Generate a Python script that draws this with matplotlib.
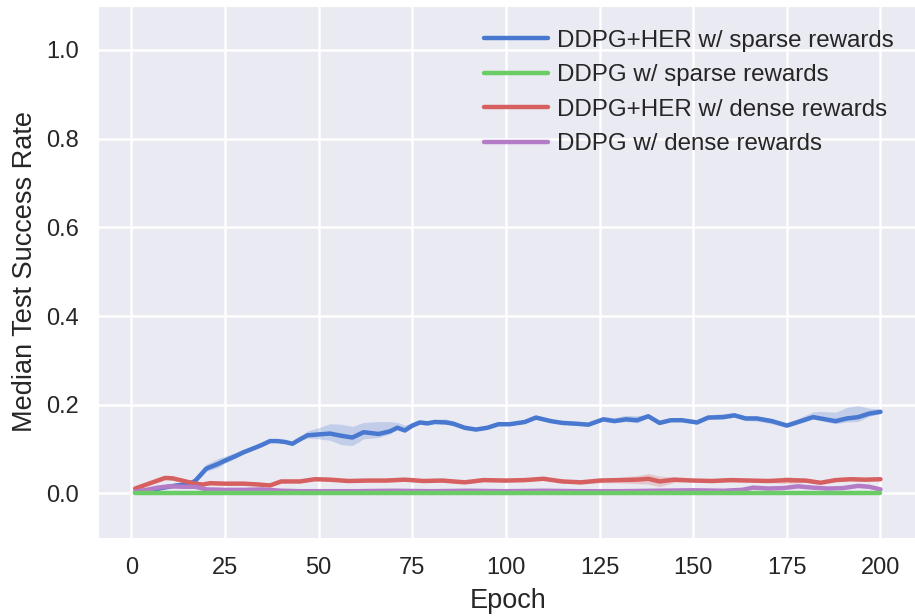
import numpy as np
import matplotlib
matplotlib.use("Agg")
import matplotlib.pyplot as plt
import seaborn as sns

# ==========================================
# Data (epoch, median success rate)
# ==========================================
blue_epochs = [1, 4, 8, 12, 15, 17, 20, 23, 25, 28, 30, 33, 35, 37, 39, 41, 43, 45, 47, 50,
               53, 56, 59, 62, 66, 69, 71, 73, 75, 77, 79, 81, 84, 86, 89, 92, 95, 98, 101, 105,
               108, 112, 115, 119, 122, 126, 129, 132, 135, 138, 141, 144, 147, 151, 154, 158, 161, 164, 167, 171,
               175, 178, 182, 184, 188, 191, 194, 197, 200]
blue_vals = [0.002, 0.005, 0.012, 0.018, 0.020, 0.028, 0.056, 0.066, 0.074, 0.085, 0.093, 0.103, 0.110, 0.118, 0.118, 0.116, 0.112, 0.122, 0.131, 0.133,
             0.135, 0.130, 0.126, 0.138, 0.134, 0.140, 0.148, 0.142, 0.153, 0.160, 0.158, 0.161, 0.160, 0.157, 0.148, 0.144, 0.148, 0.156, 0.156, 0.161,
             0.171, 0.163, 0.159, 0.157, 0.155, 0.167, 0.163, 0.167, 0.165, 0.174, 0.159, 0.165, 0.165, 0.160, 0.171, 0.172, 0.176, 0.169, 0.169, 0.163,
             0.153, 0.161, 0.172, 0.169, 0.163, 0.169, 0.172, 0.180, 0.184]
# spread of the shaded band below / above the median
blue_dn = [0.002, 0.003, 0.003, 0.003, 0.004, 0.005, 0.006, 0.008, 0.006, 0.005, 0.004, 0.004, 0.004, 0.003, 0.003, 0.003, 0.003, 0.004, 0.006, 0.010,
           0.015, 0.020, 0.018, 0.015, 0.008, 0.006, 0.004, 0.004, 0.005, 0.004, 0.004, 0.003, 0.003, 0.004, 0.004, 0.003, 0.003, 0.003, 0.003, 0.003,
           0.004, 0.003, 0.003, 0.003, 0.003, 0.004, 0.003, 0.005, 0.006, 0.004, 0.004, 0.003, 0.003, 0.004, 0.004, 0.004, 0.004, 0.005, 0.006, 0.006,
           0.004, 0.004, 0.004, 0.005, 0.006, 0.008, 0.010, 0.006, 0.004]
blue_up = [0.002, 0.003, 0.003, 0.004, 0.006, 0.008, 0.010, 0.012, 0.010, 0.008, 0.007, 0.005, 0.004, 0.003, 0.003, 0.003, 0.004, 0.006, 0.010, 0.015,
           0.022, 0.026, 0.025, 0.022, 0.028, 0.022, 0.012, 0.012, 0.006, 0.004, 0.004, 0.006, 0.008, 0.006, 0.004, 0.004, 0.004, 0.004, 0.004, 0.004,
           0.006, 0.004, 0.004, 0.003, 0.004, 0.006, 0.008, 0.009, 0.010, 0.004, 0.005, 0.004, 0.004, 0.005, 0.006, 0.008, 0.006, 0.006, 0.006, 0.006,
           0.005, 0.008, 0.012, 0.016, 0.020, 0.025, 0.026, 0.012, 0.006]

green_epochs = [1, 50, 100, 150, 200]
green_vals = [0.0, 0.0, 0.0, 0.0, 0.0]

red_epochs = [1, 3, 5, 7, 9, 11, 13, 15, 17, 19, 21, 25, 30, 34, 37, 40, 45, 49, 53, 58,
              63, 68, 73, 78, 83, 89, 94, 100, 105, 110, 115, 120, 125, 130, 135, 138, 141, 145, 150, 155,
              160, 165, 170, 175, 180, 184, 188, 192, 196, 200]
red_vals = [0.011, 0.017, 0.023, 0.029, 0.035, 0.034, 0.030, 0.026, 0.022, 0.020, 0.023, 0.022, 0.022, 0.020, 0.018, 0.027, 0.027, 0.032, 0.031, 0.028,
            0.029, 0.029, 0.031, 0.028, 0.029, 0.025, 0.030, 0.029, 0.030, 0.033, 0.027, 0.025, 0.029, 0.030, 0.031, 0.033, 0.027, 0.031, 0.029, 0.028,
            0.030, 0.029, 0.028, 0.030, 0.029, 0.024, 0.030, 0.032, 0.031, 0.032]
red_band = [0.002, 0.003, 0.003, 0.004, 0.004, 0.004, 0.003, 0.003, 0.003, 0.003, 0.003, 0.003, 0.003, 0.003, 0.003, 0.003, 0.003, 0.003, 0.003, 0.003,
            0.003, 0.003, 0.003, 0.003, 0.003, 0.003, 0.003, 0.003, 0.003, 0.003, 0.003, 0.004, 0.005, 0.006, 0.009, 0.012, 0.012, 0.006, 0.003, 0.003,
            0.004, 0.003, 0.003, 0.008, 0.004, 0.003, 0.003, 0.003, 0.003, 0.003]

purple_epochs = [1, 4, 7, 10, 14, 17, 20, 25, 30, 35, 40, 45, 50, 60, 70, 80, 90, 100, 110, 120,
                 130, 140, 150, 158, 163, 166, 170, 174, 178, 182, 186, 190, 194, 197, 200]
purple_vals = [0.004, 0.008, 0.013, 0.016, 0.015, 0.015, 0.009, 0.008, 0.008, 0.009, 0.006, 0.005, 0.005, 0.005, 0.006, 0.005, 0.006, 0.005, 0.006, 0.005,
               0.005, 0.006, 0.007, 0.006, 0.008, 0.013, 0.011, 0.012, 0.016, 0.013, 0.011, 0.012, 0.017, 0.015, 0.009]
purple_band = [0.002, 0.002, 0.002, 0.002, 0.002, 0.002, 0.002, 0.002, 0.002, 0.002, 0.002, 0.002, 0.002, 0.002, 0.002, 0.002, 0.002, 0.002, 0.002, 0.002,
               0.002, 0.002, 0.002, 0.002, 0.002, 0.003, 0.003, 0.003, 0.003, 0.003, 0.003, 0.003, 0.004, 0.004, 0.003]

labels = ["DDPG+HER w/ sparse rewards", "DDPG w/ sparse rewards",
          "DDPG+HER w/ dense rewards", "DDPG w/ dense rewards"]
colors = ["#4878CF", "#6ACC65", "#D65F5F", "#B47CC7"]

# ==========================================
# Plot
# ==========================================
sns.set_style("darkgrid", {"grid.linewidth": 1.8})
plt.rcParams['font.family'] = ['Liberation Sans', 'DejaVu Sans']

fig = plt.figure(figsize=(9.15, 6.16), dpi=100)
ax = fig.add_axes([0.107, 0.127, 0.896, 0.864])
ax.grid(True, linewidth=1.8, color="white")

series = [
    (blue_epochs, blue_vals, blue_dn, blue_up),
    (green_epochs, green_vals, [0] * len(green_vals), [0] * len(green_vals)),
    (red_epochs, red_vals, red_band, red_band),
    (purple_epochs, purple_vals, purple_band, purple_band),
]

# bands first, lines on top
for (x, y, dn, up), c in zip(series, colors):
    x = np.array(x); y = np.array(y)
    ax.fill_between(x, y - np.array(dn), y + np.array(up), color=c, alpha=0.25, linewidth=0)

order = [0, 2, 3, 1]
handles = {}
for i in order:
    x, y, _, _ = series[i]
    line, = ax.plot(x, y, color=colors[i], linewidth=3.2, label=labels[i],
                    solid_capstyle="round", solid_joinstyle="round")
    handles[i] = line

ax.set_xlim(-8.95, 209.95)
ax.set_ylim(-0.1, 1.1)
ax.set_xticks([0, 25, 50, 75, 100, 125, 150, 175, 200])
ax.set_yticks([0.0, 0.2, 0.4, 0.6, 0.8, 1.0])
ax.set_yticklabels(["0.0", "0.2", "0.4", "0.6", "0.8", "1.0"])
ax.tick_params(labelsize=17, pad=10, colors="#262626")
ax.set_xlabel("Epoch", fontsize=19.5, color="#262626", labelpad=7)
ax.set_ylabel("Median Test Success Rate", fontsize=19.5, color="#262626", labelpad=6)

ax.legend([handles[i] for i in range(4)], labels, loc="upper right",
          frameon=False, fontsize=17.4, handlelength=2.65, labelspacing=0.52,
          handletextpad=0.35, borderaxespad=0.6)

fig.savefig("out.png", dpi=100)
